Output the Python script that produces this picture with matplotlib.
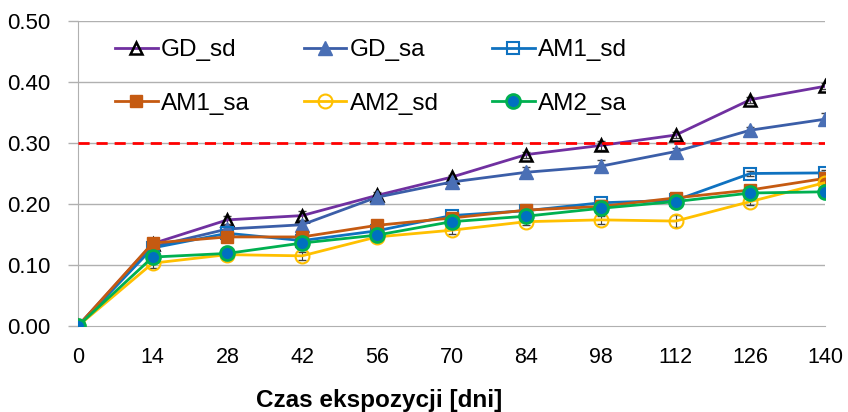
import matplotlib
matplotlib.use("Agg")
import matplotlib.pyplot as plt
import numpy as np

plt.rcParams["font.family"] = ["Liberation Sans", "DejaVu Sans"]

# exposure time [days]
days = [0, 14, 28, 42, 56, 70, 84, 98, 112, 126, 140]

gd_sd = [0.0, 0.135, 0.174, 0.181, 0.214, 0.244, 0.281, 0.296, 0.313, 0.371, 0.393]
gd_sa = [0.0, 0.130, 0.159, 0.166, 0.211, 0.236, 0.252, 0.262, 0.286, 0.321, 0.339]
am1_sd = [0.0, 0.128, 0.152, 0.140, 0.156, 0.181, 0.189, 0.202, 0.206, 0.250, 0.251]
am1_sa = [0.0, 0.136, 0.146, 0.146, 0.165, 0.177, 0.190, 0.196, 0.210, 0.223, 0.242]
am2_sd = [0.0, 0.103, 0.117, 0.115, 0.146, 0.157, 0.171, 0.174, 0.172, 0.204, 0.235]
am2_sa = [0.0, 0.113, 0.119, 0.136, 0.149, 0.171, 0.180, 0.193, 0.204, 0.218, 0.220]

gd_sd_err = [0.0, 0.004, 0.006, 0.007, 0.005, 0.004, 0.005, 0.008, 0.005, 0.005, 0.005]
gd_sa_err = [0.0, 0.004, 0.005, 0.006, 0.005, 0.005, 0.008, 0.010, 0.006, 0.005, 0.010]
am1_sd_err = [0.0, 0.003, 0.004, 0.004, 0.004, 0.004, 0.004, 0.005, 0.004, 0.004, 0.004]
am1_sa_err = [0.0, 0.003, 0.004, 0.004, 0.004, 0.004, 0.004, 0.004, 0.004, 0.004, 0.004]
am2_sd_err = [0.0, 0.008, 0.005, 0.006, 0.005, 0.006, 0.006, 0.006, 0.010, 0.006, 0.006]
am2_sa_err = [0.0, 0.004, 0.004, 0.004, 0.004, 0.004, 0.004, 0.004, 0.004, 0.004, 0.004]

limit = 0.30

yticks = [0.0, 0.1, 0.2, 0.3, 0.4, 0.5]

series = [
    ("GD_sd", gd_sd, gd_sd_err, "#7030a0", dict(marker="^", mfc="none", mec="black", ms=9, mew=1.8)),
    ("GD_sa", gd_sa, gd_sa_err, "#3b5ea8", dict(marker="^", mfc="#4a6fb5", mec="#4a6fb5", ms=10)),
    ("AM1_sd", am1_sd, am1_sd_err, "#0f72c0", dict(marker="s", mfc="none", mec="#0f72c0", ms=9, mew=1.5)),
    ("AM1_sa", am1_sa, am1_sa_err, "#c55a11", dict(marker="s", mfc="#c55a11", mec="#c55a11", ms=9)),
    ("AM2_sd", am2_sd, am2_sd_err, "#ffc000", dict(marker="o", mfc="none", mec="#ffc000", ms=10, mew=1.5)),
    ("AM2_sa", am2_sa, am2_sa_err, "#00b050", dict(marker="o", mfc="#0070c0", mec="#00b050", ms=10, mew=2)),
]

fig = plt.figure(figsize=(8.48, 4.12), dpi=100)
ax = fig.add_axes([78 / 848, 1 - 326 / 412, 747 / 848, 305 / 412])

for y in yticks[1:]:
    ax.axhline(y, color="#b0b0b0", lw=1.0, zorder=0)

handles = []
for name, vals, err, col, mk in series:
    ax.errorbar(days, vals, yerr=err, fmt="none", ecolor="#404040", elinewidth=0.8,
                capsize=3, capthick=1.0, zorder=2)
    h, = ax.plot(days, vals, color=col, lw=2, label=name, zorder=3, **mk)
    handles.append(h)

ax.axhline(limit, color="#ff0000", lw=2, ls=(0, (4, 2.5)), zorder=4)

ax.set_xlim(days[0], days[-1])
ax.set_ylim(yticks[0], yticks[-1])
ax.set_xticks(days)
ax.set_yticks(yticks)
ax.set_yticklabels([f"{t:.2f}" for t in yticks])
ax.tick_params(axis="x", length=0, pad=15, labelsize=15.5)
ax.tick_params(axis="y", length=7, width=1, color="#b0b0b0", pad=13, labelsize=16)

for s in ["top", "right"]:
    ax.spines[s].set_visible(False)
ax.spines["left"].set_color("#b0b0b0")
ax.spines["bottom"].set_color("#b0b0b0")

ax.set_xlabel("Czas ekspozycji [dni]", fontsize=17.5, fontweight="bold")
ax.xaxis.set_label_coords((379 - 78) / 747, (326 - 400) / 305)
ax.xaxis.label.set_va("center")

# legend is filled row by row in the original (3 per row)
order = [0, 3, 1, 4, 2, 5]
ax.legend([handles[i] for i in order], [series[i][0] for i in order],
          loc="upper left", bbox_to_anchor=(37 / 747, 0.94), ncol=3, frameon=False,
          fontsize=17.5, handlelength=1.75, handletextpad=0.15, columnspacing=2.2,
          labelspacing=1.3, borderaxespad=0, borderpad=0)

fig.savefig("out.png", dpi=100)
